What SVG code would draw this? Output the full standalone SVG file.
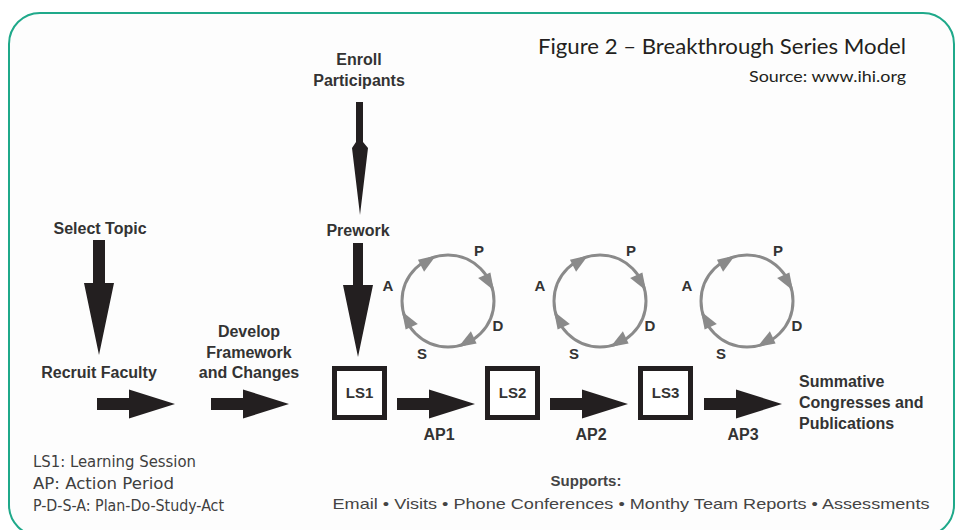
<svg xmlns="http://www.w3.org/2000/svg" width="962" height="530" viewBox="0 0 962 530">
  <defs>
    <style>
      .lbl { font-family: "Liberation Sans", Arial, sans-serif; font-weight: bold; font-size: 16px; fill: #333333; text-anchor: middle; }
      .left { text-anchor: start; }
      .box { fill: #ffffff; stroke: #231f20; stroke-width: 5; }
      .boxtxt { font-family: "Liberation Sans", Arial, sans-serif; font-weight: bold; font-size: 15px; fill: #333333; text-anchor: middle; }
      .arrow { fill: #231f20; }
      .cycle { fill: none; stroke: #8a8a8a; stroke-width: 3; }
      .tip { fill: #8a8a8a; }
      .pdsa { font-family: "Liberation Sans", Arial, sans-serif; font-weight: bold; font-size: 15px; fill: #333333; text-anchor: middle; }
      .title { font-family: Lato, "Open Sans", sans-serif; fill: #231f20; text-anchor: end; }
      .legend { font-family: "DejaVu Sans Condensed", "Liberation Sans", sans-serif; font-size: 16px; fill: #3f3f3f; }
      .support { font-family: "Liberation Sans", Arial, sans-serif; font-size: 15px; fill: #444444; text-anchor: middle; }
    </style>
    <!-- block arrow pointing right, anchored at left-centre -->
    <polygon id="harrow" points="0,-6 32,-6 32,-14.5 78,0 32,14.5 32,6 0,6"/>
    <!-- small head riding on a cycle ring, pointing along +x -->
    <polygon id="ringtip" points="10,0 -8,-4.5 -8,9"/>
    <!-- one P-D-S-A ring centred on the origin -->
    <g id="ring">
      <circle class="cycle" cx="0" cy="0" r="46"/>
      <use href="#ringtip" class="tip" transform="rotate(-117) translate(46,0) rotate(90)"/>
      <use href="#ringtip" class="tip" transform="rotate(-25) translate(46,0) rotate(90)"/>
      <use href="#ringtip" class="tip" transform="rotate(65) translate(46,0) rotate(90)"/>
      <use href="#ringtip" class="tip" transform="rotate(155) translate(46,0) rotate(90)"/>
      <text class="pdsa" x="-60" y="-10">A</text>
      <text class="pdsa" x="31" y="-45">P</text>
      <text class="pdsa" x="50" y="30">D</text>
      <text class="pdsa" x="-26" y="58">S</text>
    </g>
  </defs>

  <!-- frame -->
  <rect x="0" y="0" width="962" height="530" fill="#ffffff"/>
  <rect x="9" y="13" width="945" height="523" rx="31" ry="31" fill="#fdfdfd" stroke="#1fa98a" stroke-width="2"/>

  <!-- caption -->
  <g id="caption">
    <text class="title" x="906" y="54" font-size="21" textLength="368" lengthAdjust="spacingAndGlyphs">Figure 2 – Breakthrough Series Model</text>
    <text class="title" x="906" y="82" font-size="16" textLength="157" lengthAdjust="spacingAndGlyphs">Source: www.ihi.org</text>
  </g>

  <!-- connectors -->
  <g id="connectors" class="arrow">
    <!-- Select Topic -> Recruit Faculty -->
    <polygon points="93,240 105,240 105,283 114,283 99,355 84,283 93,283"/>
    <!-- Enroll Participants -> Prework -->
    <polygon points="356,102 363,102 363,142 368,148 360,215 352,148 356,142"/>
    <!-- Prework -> LS1 -->
    <polygon points="353,243 363,243 363,285 373,285 358,357 343,285 353,285"/>
    <use href="#harrow" x="97" y="404"/>
    <use href="#harrow" x="211" y="404"/>
    <use href="#harrow" x="397" y="404"/>
    <use href="#harrow" x="550" y="404"/>
    <use href="#harrow" x="704" y="404"/>
  </g>

  <g id="select-topic"><text class="lbl" x="100" y="234">Select Topic</text></g>
  <g id="recruit-faculty"><text class="lbl" x="99" y="378">Recruit Faculty</text></g>
  <g id="develop-framework">
    <text class="lbl" x="249" y="337">Develop</text>
    <text class="lbl" x="249" y="358">Framework</text>
    <text class="lbl" x="249" y="378">and Changes</text>
  </g>
  <g id="enroll-participants">
    <text class="lbl" x="359" y="65">Enroll</text>
    <text class="lbl" x="359" y="86">Participants</text>
  </g>
  <g id="prework"><text class="lbl" x="358" y="236">Prework</text></g>

  <g id="ls1">
    <rect class="box" x="334.5" y="368.5" width="50" height="49"/>
    <text class="boxtxt" x="359.5" y="398">LS1</text>
  </g>
  <g id="ls2">
    <rect class="box" x="487.5" y="368.5" width="50" height="49"/>
    <text class="boxtxt" x="512.5" y="398">LS2</text>
  </g>
  <g id="ls3">
    <rect class="box" x="640.5" y="368.5" width="50" height="49"/>
    <text class="boxtxt" x="665.5" y="398">LS3</text>
  </g>

  <g id="ap-labels">
    <text class="lbl" x="439" y="440" font-size="15">AP1</text>
    <text class="lbl" x="591" y="440" font-size="15">AP2</text>
    <text class="lbl" x="743" y="440" font-size="15">AP3</text>
  </g>

  <g id="pdsa-1"><use href="#ring" transform="translate(448,301)"/></g>
  <g id="pdsa-2"><use href="#ring" transform="translate(600,301)"/></g>
  <g id="pdsa-3"><use href="#ring" transform="translate(747,301)"/></g>

  <g id="summative">
    <text class="lbl left" x="799" y="387">Summative</text>
    <text class="lbl left" x="799" y="408">Congresses and</text>
    <text class="lbl left" x="799" y="429">Publications</text>
  </g>

  <g id="legend">
    <text class="legend" x="33" y="467" textLength="163" lengthAdjust="spacingAndGlyphs">LS1: Learning Session</text>
    <text class="legend" x="33" y="489" textLength="141" lengthAdjust="spacingAndGlyphs">AP: Action Period</text>
    <text class="legend" x="33" y="511" textLength="191" lengthAdjust="spacingAndGlyphs">P-D-S-A: Plan-Do-Study-Act</text>
  </g>

  <g id="supports">
    <text class="support" x="586" y="486" font-weight="bold">Supports:</text>
    <text class="support" x="631" y="509" textLength="597" lengthAdjust="spacingAndGlyphs">Email • Visits • Phone Conferences • Monthy Team Reports • Assessments</text>
  </g>
</svg>
